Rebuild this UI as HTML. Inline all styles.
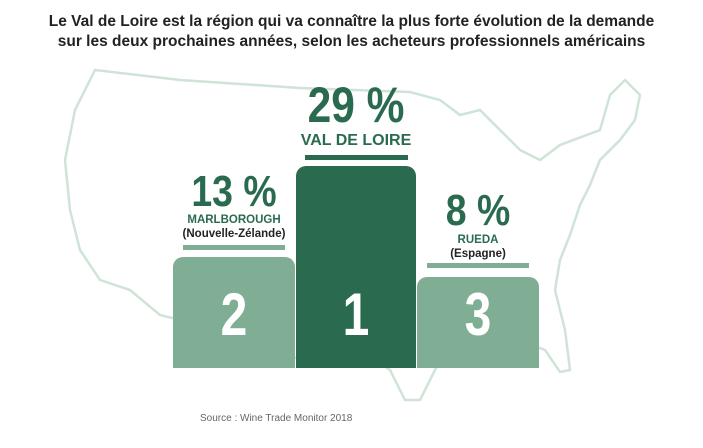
<!DOCTYPE html><html><head><style>
body{margin:0;width:703px;height:448px;background:#fff;position:relative;overflow:hidden;font-family:"Liberation Sans",sans-serif}
.t{position:absolute;left:0;width:703px;text-align:center;font-weight:bold;font-size:15.5px;color:#222;line-height:20px}
.a{position:absolute;text-align:center;color:#2a6b4f;font-weight:bold}
.big{transform:scaleX(0.85)}
.bar{position:absolute;border-radius:10px 10px 0 0}
.n{position:absolute;color:#fff;font-weight:bold;font-size:60px;line-height:60px;text-align:center;width:100%;transform:scaleX(0.8)}
.ln{position:absolute;background:#7fae94;height:5px}
</style></head><body>
<svg width="703" height="448" style="position:absolute;left:0;top:0">
<path d="M95 70 L180 80 L300 88 L410 92 L440 100 L460 115 L480 110 L500 130 L520 150 L540 160 L560 145 L600 130 L610 95 L625 80 L640 95 L635 120 L620 140 L600 160 L590 185 L580 205 L570 235 L560 260 L555 290 L565 330 L570 370 L560 372 L545 350 L520 340 L470 340 L440 360 L420 400 L405 400 L390 370 L360 350 L330 345 L300 360 L280 350 L240 340 L200 325 L160 315 L130 290 L100 280 L80 250 L70 210 L65 160 L75 110 Z" fill="none" stroke="#cfe4d6" stroke-width="2.5"/>
</svg>
<div class="t" style="top:12px">Le Val de Loire est la région qui va connaître la plus forte évolution de la demande<br>sur les deux prochaines années, selon les acheteurs professionnels américains</div>
<div class="a big" style="left:286px;width:140px;top:80px;font-size:50px;line-height:50px">29 %</div>
<div class="a" style="left:286px;width:140px;top:132px;font-size:16px">VAL DE LOIRE</div>
<div class="ln" style="left:305px;width:103px;top:155px;background:#2a6b4f"></div>
<div class="a big" style="left:163px;width:142px;top:170px;font-size:44px;line-height:44px">13 %</div>
<div class="a" style="left:163px;width:142px;top:214px;font-size:11.5px">MARLBOROUGH</div>
<div class="a" style="left:163px;width:142px;top:228px;font-size:11.5px;color:#222">(Nouvelle-Zélande)</div>
<div class="ln" style="left:183px;width:102px;top:245px"></div>
<div class="a big" style="left:417px;width:122px;top:189px;font-size:44px;line-height:44px">8 %</div>
<div class="a" style="left:417px;width:122px;top:234px;font-size:11.5px">RUEDA</div>
<div class="a" style="left:417px;width:122px;top:248px;font-size:11.5px;color:#222">(Espagne)</div>
<div class="ln" style="left:427px;width:102px;top:263px"></div>
<div class="bar" style="left:173px;width:122px;top:257px;height:111px;background:#7fae94"><div class="n" style="top:28px">2</div></div>
<div class="bar" style="left:296px;width:120px;top:166px;height:202px;background:#2a6b4f"><div class="n" style="top:119px">1</div></div>
<div class="bar" style="left:417px;width:122px;top:277px;height:91px;background:#7fae94"><div class="n" style="top:8px">3</div></div>
<div style="position:absolute;left:200px;top:413px;font-size:10px;color:#666">Source : Wine Trade Monitor 2018</div>
</body></html>
